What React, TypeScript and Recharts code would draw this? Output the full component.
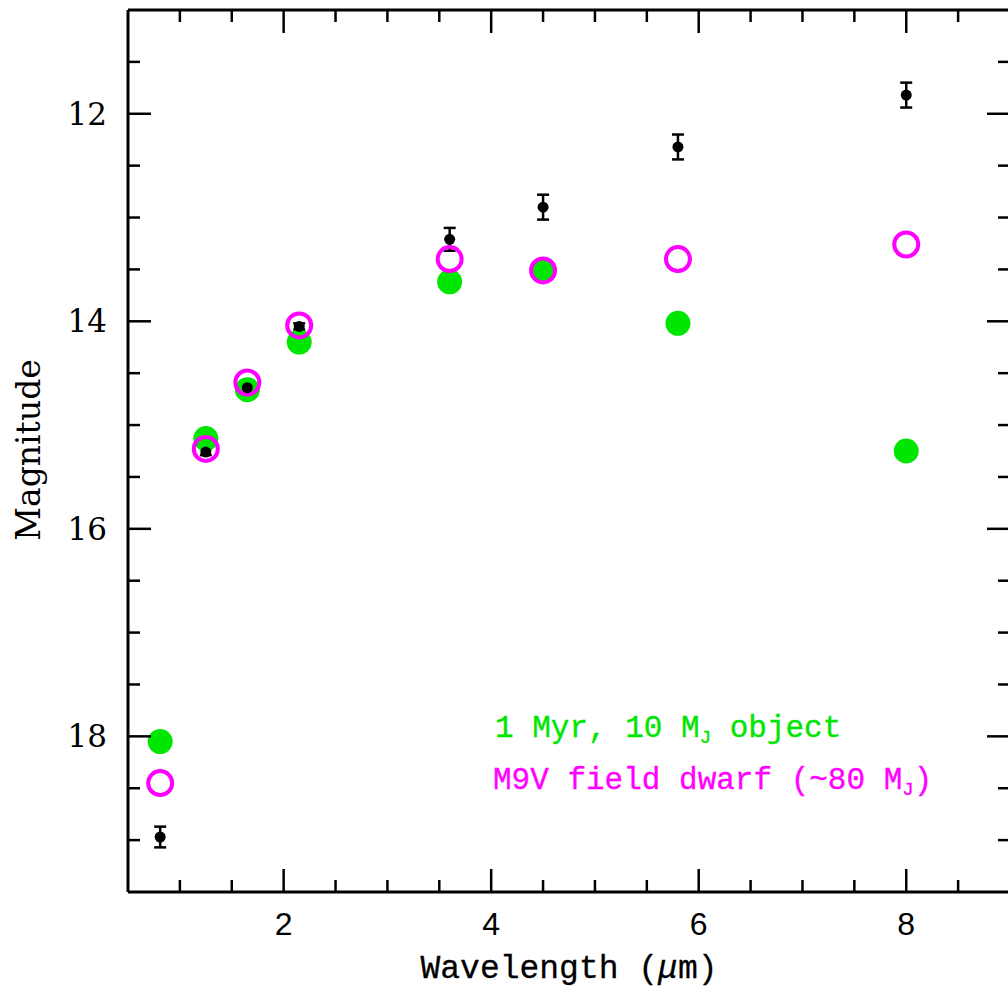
import { ScatterChart, Scatter, XAxis, YAxis, ErrorBar } from "recharts";

// photometry of the object, wavelengths in microns
const wavelengths = [0.81, 1.25, 1.65, 2.15, 3.6, 4.5, 5.8, 8.0];
const observedMag = [18.97, 15.26, 14.64, 14.05, 13.21, 12.9, 12.32, 11.82];
const observedErr = [0.1, 0.03, 0.03, 0.03, 0.11, 0.12, 0.12, 0.12];
const model1Myr = [18.05, 15.13, 14.66, 14.2, 13.62, 13.5, 14.02, 15.25];
const fieldDwarf = [18.45, 15.23, 14.59, 14.04, 13.4, 13.51, 13.4, 13.26];

const xTicks = [1, 1.5, 2, 2.5, 3, 3.5, 4, 4.5, 5, 5.5, 6, 6.5, 7, 7.5, 8, 8.5];
const yTicks = [11.5, 12, 12.5, 13, 13.5, 14, 14.5, 15, 15.5, 16, 16.5, 17, 17.5, 18, 18.5, 19];

const GREEN = "#00e600";
const MAGENTA = "#ff00ff";

const observed = wavelengths.map((w, i) => ({ w, mag: observedMag[i], err: observedErr[i] }));
const young = wavelengths.map((w, i) => ({ w, mag: model1Myr[i] }));
const dwarf = wavelengths.map((w, i) => ({ w, mag: fieldDwarf[i] }));

const isMajor = (v: number) => v % 2 === 0;

const BottomTick = ({ x, y, payload }: any) => {
  const major = isMajor(payload.value);
  return (
    <g>
      <line x1={x} x2={x} y1={y} y2={y - (major ? 23 : 12)} stroke="#000" strokeWidth={2.5} />
      {major && (
        <text x={x} y={y + 43} textAnchor="middle" fontFamily="Liberation Sans" fontSize={32} fill="#000">
          {payload.value}
        </text>
      )}
    </g>
  );
};

const TopTick = ({ x, y, payload }: any) => (
  <line x1={x} x2={x} y1={y} y2={y + (isMajor(payload.value) ? 23 : 12)} stroke="#000" strokeWidth={2.5} />
);

const LeftTick = ({ x, y, payload }: any) => {
  const major = isMajor(payload.value);
  return (
    <g>
      <line x1={x} x2={x + (major ? 23 : 12)} y1={y} y2={y} stroke="#000" strokeWidth={2.5} />
      {major && (
        <text x={x - 21} y={y + 11} textAnchor="end" fontFamily="DejaVu Serif" fontSize={31} fill="#000">
          {payload.value}
        </text>
      )}
    </g>
  );
};

const RightTick = ({ x, y, payload }: any) => (
  <line x1={x} x2={x - (isMajor(payload.value) ? 23 : 12)} y1={y} y2={y} stroke="#000" strokeWidth={2.5} />
);

const FilledDot = ({ cx, cy }: any) => <circle cx={cx} cy={cy} r={12.5} fill={GREEN} />;
const RingDot = ({ cx, cy }: any) => (
  <circle cx={cx} cy={cy} r={12} fill="none" stroke={MAGENTA} strokeWidth={4} />
);
const BlackDot = ({ cx, cy }: any) => <circle cx={cx} cy={cy} r={5.5} fill="#000" />;
const NoDot = () => <g />;

const axisLine = { stroke: "#000", strokeWidth: 3 };

export default function App() {
  return (
    <div
      style={{
        position: "absolute",
        left: 0,
        top: 0,
        width: 1008,
        height: 989,
        overflow: "hidden",
        background: "#fff",
      }}
    >
      <ScatterChart width={1012} height={989} margin={{ top: 9, right: 1, bottom: 0, left: 0 }}>
        <XAxis
          xAxisId="x"
          dataKey="w"
          type="number"
          domain={[0.5, 9]}
          allowDataOverflow
          ticks={xTicks}
          interval={0}
          tickSize={0}
          tickMargin={0}
          tick={<BottomTick />}
          tickLine={false}
          axisLine={axisLine}
          height={97}
        />
        <XAxis
          xAxisId="top"
          dataKey="w"
          orientation="top"
          type="number"
          domain={[0.5, 9]}
          allowDataOverflow
          ticks={xTicks}
          interval={0}
          tickSize={0}
          tickMargin={0}
          tick={<TopTick />}
          tickLine={false}
          axisLine={axisLine}
          height={1}
        />
        <YAxis
          yAxisId="y"
          dataKey="mag"
          type="number"
          domain={[11, 19.5]}
          allowDataOverflow
          reversed
          ticks={yTicks}
          interval={0}
          tickSize={0}
          tickMargin={0}
          tick={<LeftTick />}
          tickLine={false}
          axisLine={axisLine}
          width={128}
        />
        <YAxis
          yAxisId="right"
          dataKey="mag"
          orientation="right"
          type="number"
          domain={[11, 19.5]}
          allowDataOverflow
          reversed
          ticks={yTicks}
          interval={0}
          tickSize={0}
          tickMargin={0}
          tick={<RightTick />}
          tickLine={false}
          axisLine={axisLine}
          width={1}
        />
        {/* invisible series so the mirror axes are drawn */}
        <Scatter xAxisId="top" yAxisId="right" data={young} shape={<NoDot />} isAnimationActive={false} />
        <Scatter
          xAxisId="x"
          yAxisId="y"
          data={young}
          shape={<FilledDot />}
          isAnimationActive={false}
        />
        <Scatter
          xAxisId="x"
          yAxisId="y"
          data={dwarf}
          shape={<RingDot />}
          isAnimationActive={false}
        />
        <Scatter
          xAxisId="x"
          yAxisId="y"
          data={observed}
          shape={<BlackDot />}
          isAnimationActive={false}
        >
          <ErrorBar dataKey="err" direction="y" width={6} stroke="#000" strokeWidth={2.5} isAnimationActive={false} />
        </Scatter>
      </ScatterChart>

      <svg
        width={1008}
        height={989}
        style={{ position: "absolute", left: 0, top: 0, pointerEvents: "none" }}
      >
        <text
          x={569}
          y={978}
          textAnchor="middle"
          fontFamily="Liberation Mono"
          fontSize={33}
          fill="#000"
          stroke="#000"
          strokeWidth={0.3}
        >
          Wavelength (<tspan fontStyle="italic">μ</tspan>m)
        </text>
        <text
          transform="translate(40 450) rotate(-90)"
          textAnchor="middle"
          fontFamily="DejaVu Serif"
          fontSize={33}
          fill="#000"
        >
          Magnitude
        </text>
        <text x={495} y={737} fontFamily="Liberation Mono" fontSize={31} fill={GREEN} stroke={GREEN} strokeWidth={0.35}>
          1 Myr, 10 M<tspan fontSize={19} dy={6}>J</tspan>
          <tspan dy={-6}> object</tspan>
        </text>
        <text x={493} y={789} fontFamily="Liberation Mono" fontSize={31} fill={MAGENTA} stroke={MAGENTA} strokeWidth={0.35}>
          M9V field dwarf (~80 M<tspan fontSize={19} dy={6}>J</tspan>
          <tspan dy={-6}>)</tspan>
        </text>
      </svg>
    </div>
  );
}
